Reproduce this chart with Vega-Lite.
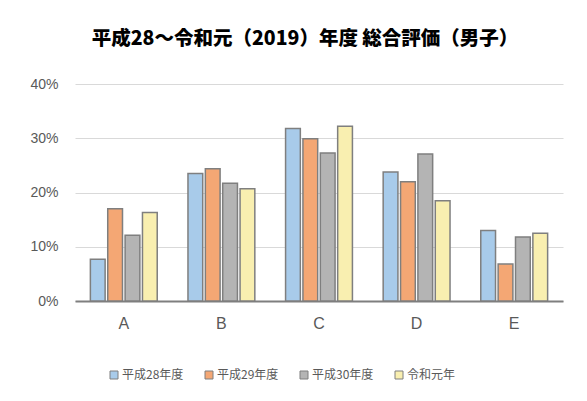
{
  "$schema": "https://vega.github.io/schema/vega-lite/v6.json",
  "width": 488,
  "height": 217,
  "autosize": {"type": "none"},
  "padding": {"left": 75, "top": 84, "right": 24, "bottom": 100},
  "background": "white",
  "title": {
    "text": "平成28～令和元（2019）年度 総合評価（男子）",
    "font": "Noto Sans CJK JP",
    "fontWeight": 900,
    "fontSize": 19.5,
    "color": "#000000",
    "anchor": "middle",
    "frame": "group",
    "dx": -14,
    "offset": 28
  },
  "data": {
    "values": [
      {"grade": "A", "year": "平成28年度", "rate": 0.077},
      {"grade": "A", "year": "平成29年度", "rate": 0.170},
      {"grade": "A", "year": "平成30年度", "rate": 0.121},
      {"grade": "A", "year": "令和元年", "rate": 0.163},
      {"grade": "B", "year": "平成28年度", "rate": 0.235},
      {"grade": "B", "year": "平成29年度", "rate": 0.244},
      {"grade": "B", "year": "平成30年度", "rate": 0.217},
      {"grade": "B", "year": "令和元年", "rate": 0.207},
      {"grade": "C", "year": "平成28年度", "rate": 0.318},
      {"grade": "C", "year": "平成29年度", "rate": 0.299},
      {"grade": "C", "year": "平成30年度", "rate": 0.273},
      {"grade": "C", "year": "令和元年", "rate": 0.322},
      {"grade": "D", "year": "平成28年度", "rate": 0.238},
      {"grade": "D", "year": "平成29年度", "rate": 0.220},
      {"grade": "D", "year": "平成30年度", "rate": 0.271},
      {"grade": "D", "year": "令和元年", "rate": 0.185},
      {"grade": "E", "year": "平成28年度", "rate": 0.130},
      {"grade": "E", "year": "平成29年度", "rate": 0.068},
      {"grade": "E", "year": "平成30年度", "rate": 0.118},
      {"grade": "E", "year": "令和元年", "rate": 0.125}
    ]
  },
  "mark": {"type": "bar", "stroke": "#7f7f7f", "strokeWidth": 1.5},
  "encoding": {
    "x": {
      "field": "grade",
      "type": "nominal",
      "scale": {"paddingInner": 0.315, "paddingOuter": 0.1575},
      "axis": {
        "title": null,
        "labelAngle": 0,
        "labelFont": "Liberation Sans",
        "labelFontSize": 16,
        "labelColor": "#595959",
        "labelPadding": 14,
        "ticks": false,
        "domainColor": "#7f7f7f",
        "domainWidth": 2
      }
    },
    "xOffset": {
      "field": "year",
      "type": "nominal",
      "sort": ["平成28年度", "平成29年度", "平成30年度", "令和元年"],
      "scale": {"paddingInner": 0.15, "paddingOuter": 0}
    },
    "y": {
      "field": "rate",
      "type": "quantitative",
      "scale": {"domain": [0, 0.4], "nice": false},
      "axis": {
        "title": null,
        "format": ".0%",
        "values": [0, 0.1, 0.2, 0.3, 0.4],
        "labelOverlap": false,
        "domain": false,
        "ticks": false,
        "labelFont": "Liberation Sans",
        "labelFontSize": 14,
        "labelColor": "#595959",
        "labelPadding": 17,
        "gridColor": "#d9d9d9",
        "gridWidth": 1
      }
    },
    "color": {
      "field": "year",
      "type": "nominal",
      "sort": ["平成28年度", "平成29年度", "平成30年度", "令和元年"],
      "scale": {
        "domain": ["平成28年度", "平成29年度", "平成30年度", "令和元年"],
        "range": ["#a8cbea", "#f4a774", "#b4b4b4", "#f9efb0"]
      },
      "legend": {
        "title": null,
        "orient": "none",
        "direction": "horizontal",
        "legendX": 33,
        "legendY": 285,
        "symbolType": "square",
        "symbolSize": 64,
        "symbolStrokeColor": "#7f7f7f",
        "symbolStrokeWidth": 1,
        "labelFont": "Noto Sans CJK JP",
        "labelFontSize": 12,
        "labelColor": "#595959",
        "labelOffset": 2,
        "columnPadding": 19
      }
    }
  },
  "config": {"view": {"stroke": null}}
}
